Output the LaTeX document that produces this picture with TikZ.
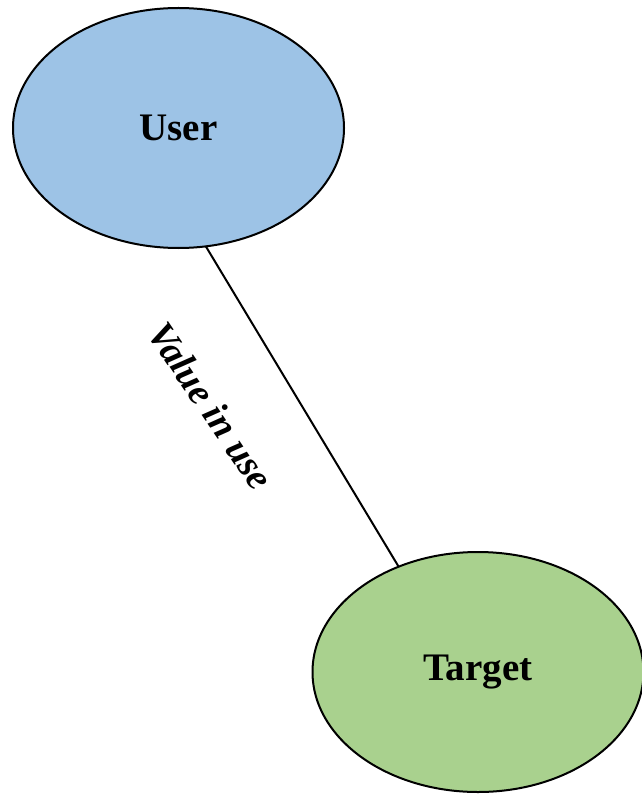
\documentclass[tikz,border=0pt]{standalone}
\usepackage{fontspec}
\setmainfont{Liberation Serif}
\usetikzlibrary{shapes.geometric}
\definecolor{userblue}{HTML}{9DC3E6}
\definecolor{targetgreen}{HTML}{A9D18E}
\begin{document}
\begin{tikzpicture}[x=1pt,y=-1pt,
  bubble/.style={ellipse,draw=black,line width=2pt,inner sep=0pt,outer sep=0pt,
    minimum width=331pt,minimum height=240pt,font=\fontsize{39}{42}\selectfont\bfseries},
  link/.style={draw=black,line width=2pt}]
  \useasboundingbox (0,0) rectangle (641,794);
  \node[bubble,fill=userblue] (user) at (178.5,128) {User};
  \node[bubble,fill=targetgreen] (target) at (478,672) {Target};
  \draw[link] (user.-77) -- (target.127);
  \node[rotate=-56,font=\fontsize{38}{42}\selectfont\bfseries\itshape] (label) at (211,406) {Value in use};
\end{tikzpicture}
\end{document}
